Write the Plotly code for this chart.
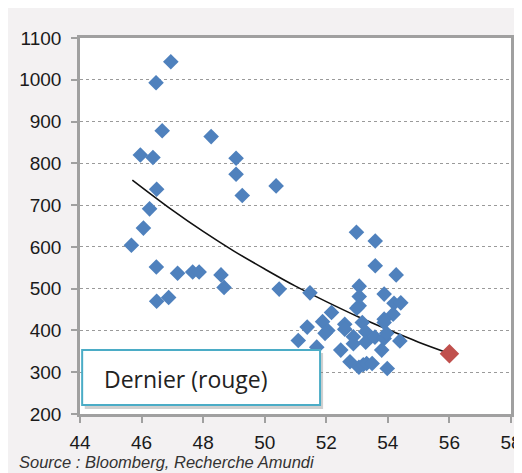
import plotly.graph_objects as go

# Blue points
pts_x = [46.95, 46.47, 46.67, 48.26, 45.96, 46.37, 49.07, 49.07, 50.37, 46.49,
         49.27, 46.26, 46.06, 45.67, 46.48, 47.17, 47.66, 47.87, 48.58, 48.68,
         50.47, 46.88, 46.49,
         52.98, 53.59, 53.59, 54.27, 51.47, 53.07, 53.07, 53.88, 53.07, 52.99,
         54.20, 54.42, 54.17, 52.17, 51.88, 53.88, 53.88, 51.38, 52.60, 52.60,
         52.05, 51.96, 53.17, 53.28, 52.88, 52.88, 53.28, 53.58, 53.88, 53.96,
         54.39, 51.09, 51.69, 52.47, 53.80, 52.77, 53.06, 53.20, 53.31, 53.49,
         53.98]
pts_y = [1043, 993, 878, 864, 820, 814, 812, 774, 746, 738,
         723, 691, 645, 604, 552, 537, 540, 540, 533, 503,
         499, 479, 470,
         635, 614, 555, 533, 490, 506, 481, 487, 459, 453,
         465, 466, 439, 443, 421, 427, 419, 408, 415, 403,
         400, 393, 419, 397, 385, 368, 372, 384, 381, 393,
         375, 376, 360, 353, 353, 325, 312, 318, 321, 321,
         309]

# Last point (red)
last_x = [56.0]
last_y = [344]

# Trend curve
trend_x = [45.7, 47, 48, 49, 50, 51, 52, 53, 54, 55, 56]
trend_y = [760, 688, 637, 590, 547, 506, 469, 434, 402, 372, 345]

x_ticks = [44, 46, 48, 50, 52, 54, 56, 58]
y_ticks = [200, 300, 400, 500, 600, 700, 800, 900, 1000, 1100]

box_label = "Dernier (rouge)"
source_text = "Source : Bloomberg, Recherche Amundi"

fig = go.Figure()
fig.add_trace(go.Scatter(x=trend_x, y=trend_y, mode="lines",
                         line=dict(color="#111111", width=1.6, shape="spline"),
                         hoverinfo="skip", showlegend=False))
fig.add_trace(go.Scatter(x=pts_x, y=pts_y, mode="markers",
                         marker=dict(symbol="diamond", size=12, color="#4F81BD"),
                         showlegend=False))
fig.add_trace(go.Scatter(x=last_x, y=last_y, mode="markers",
                         marker=dict(symbol="diamond", size=15, color="#C0504D"),
                         showlegend=False))

tick_font = dict(family="Arial", size=19, color="#1a1a1a")

fig.update_xaxes(range=[44, 58], tickvals=x_ticks, ticktext=[str(v) for v in x_ticks],
                 showgrid=False, zeroline=False, automargin=False,
                 showline=True, linecolor="#A0A0A0", linewidth=2.5, mirror=True,
                 ticks="outside", ticklen=6, tickcolor="#A0A0A0", tickwidth=1.5,
                 ticklabelstandoff=3,
                 tickfont=tick_font)
fig.update_yaxes(range=[200, 1100], tickvals=y_ticks, ticktext=[str(v) for v in y_ticks],
                 showgrid=True, gridcolor="#9A9A9A", gridwidth=1, griddash="dot",
                 zeroline=False, automargin=False,
                 showline=True, linecolor="#A0A0A0", linewidth=2.5, mirror=True,
                 ticks="outside", ticklen=6, tickcolor="#A0A0A0", tickwidth=1.5,
                 ticklabelstandoff=6,
                 tickfont=tick_font)

shapes = [
    # shadow of label box
    dict(type="rect", xref="paper", yref="paper", x0=0.011, x1=0.564, y0=0.013, y1=0.162,
         fillcolor="rgba(120,120,120,0.35)", line=dict(width=0)),
    # label box
    dict(type="rect", xref="paper", yref="paper", x0=0.005, x1=0.557, y0=0.024, y1=0.170,
         fillcolor="white", line=dict(color="#4BACC6", width=2)),
]

annotations = [
    dict(text=box_label, xref="paper", yref="paper", x=0.05, y=0.094,
         xanchor="left", yanchor="middle", showarrow=False,
         font=dict(family="Open Sans, sans-serif", size=23, color="#222222")),
    dict(text="<i>" + source_text + "</i>", xref="paper", yref="paper",
         x=-0.146, y=-0.128, xanchor="left", yanchor="middle", showarrow=False,
         font=dict(family="Arial", size=16.5, color="#333333")),
]

fig.update_layout(
    width=514, height=465,
    margin=dict(l=72, r=11, t=30, b=59),
    paper_bgcolor="#F3F1F2", plot_bgcolor="white",
    shapes=shapes, annotations=annotations,
    showlegend=False,
)

fig.write_html("out.html")
